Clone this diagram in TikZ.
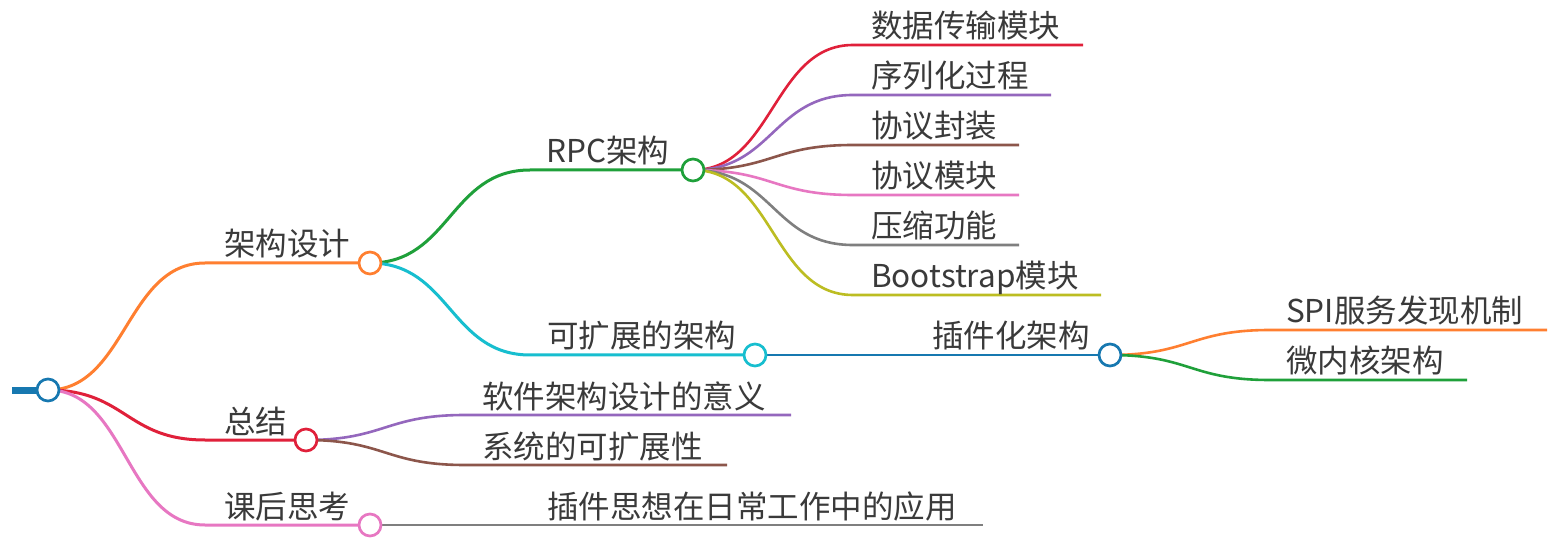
\documentclass[tikz,border=0pt]{standalone}
\usepackage{fontspec}
\newfontfamily\cjk{Noto Sans CJK SC}
\definecolor{cBlue}{HTML}{1778B0}
\definecolor{cOrange}{HTML}{FF7F30}
\definecolor{cGreen}{HTML}{1FA03A}
\definecolor{cRed}{HTML}{E0203A}
\definecolor{cPurple}{HTML}{9467BD}
\definecolor{cBrown}{HTML}{8C564B}
\definecolor{cPink}{HTML}{E777C2}
\definecolor{cGray}{HTML}{7F7F7F}
\definecolor{cOlive}{HTML}{BCBD22}
\definecolor{cCyan}{HTML}{17BECF}
\definecolor{txt}{HTML}{3A3A3A}
\tikzset{
  dot/.style={circle, draw=#1, fill=white, line width=2.7pt, minimum size=22pt, inner sep=0pt},
  br/.style={draw=#1, line width=3pt},
  brs/.style={draw=#1, line width=2.6pt},
  lbl/.style={anchor=base west, inner sep=0pt, text=txt, font=\cjk\fontsize{31.5}{36}\selectfont},
}
\begin{document}
\begin{tikzpicture}[x=1pt,y=-1pt]
\useasboundingbox[fill=white] (0,0) rectangle (1564,545);
% centres
\coordinate (root) at (48,390);
\coordinate (jg) at (370,263);
\coordinate (zj) at (306,440);
\coordinate (kh) at (370,525);
\coordinate (rpc) at (693,170);
\coordinate (kz) at (755,355);
\coordinate (cj) at (1110,355);
% line starts / leaf ends
\coordinate (jg0) at (205,263);
\coordinate (zj0) at (205,440);
\coordinate (kh0) at (205,525);
\coordinate (rpc0) at (530,170);
\coordinate (kz0) at (530,355);
\coordinate (r1a) at (853,45)  ; \coordinate (r1b) at (1083,45);
\coordinate (r2a) at (853,95)  ; \coordinate (r2b) at (1051,95);
\coordinate (r3a) at (853,145) ; \coordinate (r3b) at (1019,145);
\coordinate (r4a) at (853,195) ; \coordinate (r4b) at (1019,195);
\coordinate (r5a) at (853,245) ; \coordinate (r5b) at (1019,245);
\coordinate (r6a) at (853,295) ; \coordinate (r6b) at (1101,295);
\coordinate (s1a) at (1270,330); \coordinate (s1b) at (1547,330);
\coordinate (s2a) at (1270,380); \coordinate (s2b) at (1467,380);
\coordinate (z1a) at (465,415) ; \coordinate (z1b) at (791,415);
\coordinate (z2a) at (465,465) ; \coordinate (z2b) at (727,465);
\coordinate (k1b) at (983,525);
% root bar
\draw[cBlue, line width=7pt] (12,390) -- (root);
% level 1
\draw[br=cOrange] (root) .. controls (126,390) and (126,263) .. (jg0) -- (jg);
\draw[br=cRed] (root) .. controls (126,390) and (126,440) .. (zj0) -- (zj);
\draw[br=cPink] (root) .. controls (126,390) and (126,525) .. (kh0) -- (kh);
% level 2
\draw[br=cGreen] (jg) .. controls (450,263) and (450,170) .. (rpc0) -- (rpc);
\draw[br=cCyan] (jg) .. controls (450,263) and (450,355) .. (kz0) -- (kz);
\draw[brs=cPurple] (zj) .. controls (385,440) and (385,415) .. (z1a) -- (z1b);
\draw[brs=cBrown] (zj) .. controls (385,440) and (385,465) .. (z2a) -- (z2b);
\draw[brs=cGray] (kh) -- (k1b);
% level 3
\draw[brs=cRed] (rpc) .. controls (773,170) and (773,45) .. (r1a) -- (r1b);
\draw[brs=cPurple] (rpc) .. controls (773,170) and (773,95) .. (r2a) -- (r2b);
\draw[brs=cBrown] (rpc) .. controls (773,170) and (773,145) .. (r3a) -- (r3b);
\draw[brs=cPink] (rpc) .. controls (773,170) and (773,195) .. (r4a) -- (r4b);
\draw[brs=cGray] (rpc) .. controls (773,170) and (773,245) .. (r5a) -- (r5b);
\draw[brs=cOlive] (rpc) .. controls (773,170) and (773,295) .. (r6a) -- (r6b);
\draw[brs=cBlue] (kz) -- (cj);
\draw[brs=cOrange] (cj) .. controls (1190,355) and (1190,330) .. (s1a) -- (s1b);
\draw[brs=cGreen] (cj) .. controls (1190,355) and (1190,380) .. (s2a) -- (s2b);
% circles
\node[dot=cBlue] (rootC) at (root) {};
\node[dot=cOrange] (jgC) at (jg) {};
\node[dot=cRed] (zjC) at (zj) {};
\node[dot=cPink] (khC) at (kh) {};
\node[dot=cGreen] (rpcC) at (rpc) {};
\node[dot=cCyan] (kzC) at (kz) {};
\node[dot=cBlue] (cjC) at (cj) {};
% labels
\node[lbl] (t1) at (224,256) {架构设计};
\node[lbl] (t2) at (224,433) {总结};
\node[lbl] (t3) at (224,518) {课后思考};
\node[lbl] (t4) at (546,163) {RPC架构};
\node[lbl] (t5) at (547,348) {可扩展的架构};
\node[lbl] (t6) at (932,348) {插件化架构};
\node[lbl] (t7) at (1286,323) {SPI服务发现机制};
\node[lbl] (t8) at (1286,373) {微内核架构};
\node[lbl] (t9) at (482,408) {软件架构设计的意义};
\node[lbl] (t10) at (482,458) {系统的可扩展性};
\node[lbl] (t11) at (547,518) {插件思想在日常工作中的应用};
\node[lbl] (t12) at (871,38) {数据传输模块};
\node[lbl] (t13) at (871,88) {序列化过程};
\node[lbl] (t14) at (871,138) {协议封装};
\node[lbl] (t15) at (871,188) {协议模块};
\node[lbl] (t16) at (871,238) {压缩功能};
\node[lbl] (t17) at (871,288) {Bootstrap模块};
\end{tikzpicture}
\end{document}
